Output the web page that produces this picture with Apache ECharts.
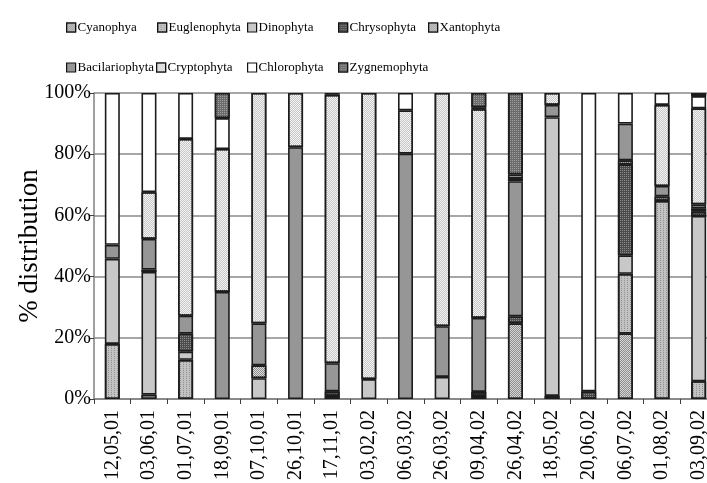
<!DOCTYPE html>
<html>
<head>
<meta charset="utf-8">
<script src="https://cdn.jsdelivr.net/npm/echarts@6/dist/echarts.min.js"></script>
<style>
  html, body { margin: 0; padding: 0; background: #fff; overflow: hidden; }
  #chart { width: 722px; height: 483px; }
</style>
</head>
<body>
<div id="chart"></div>
<script>
// Sampling dates (day,month,year)
const dates = ['12,05,01','03,06,01','01,07,01','18,09,01','07,10,01','26,10,01','17,11,01',
  '03,02,02','06,03,02','26,03,02','09,04,02','26,04,02','18,05,02','20,06,02','06,07,02','01,08,02','03,09,02'];

// Percentage share of each algal group per sampling date
const cyanophya      = [0, 0, 0, 0, 0, 0, 0, 0, 0, 0, 0, 24.7, 1, 0, 21.4, 0, 0];
const euglenophyta   = [18, 1.4, 12.8, 0, 0, 0, 1, 0, 0, 0, 1, 0, 0, 0, 19.5, 64.7, 5.8];
const dinophyta      = [27.8, 40.1, 2.7, 0, 6.8, 0, 0, 6.5, 0, 7.2, 0, 0, 91.1, 0, 6, 0, 54];
const chrysophyta    = [0, 0.8, 5.9, 0, 0, 0, 1.5, 0, 0, 0, 1.3, 2.3, 0, 2.5, 29.8, 1.5, 1.5];
const xantophyta     = [0, 0, 0, 0, 4.2, 0, 0, 0, 0, 0, 0, 0, 0, 0, 1.3, 0, 1];
const bacilariophyta = [4.6, 10, 5.8, 35, 13.7, 82.3, 9.2, 0, 80.2, 16.6, 24.2, 44.2, 4, 0, 12, 3.4, 1.3];
const cryptophyta    = [0, 15.3, 57.8, 46.7, 75.3, 17.7, 87.7, 93.5, 14.1, 76.2, 68.2, 1, 3.9, 0, 0, 26.5, 31.4];
const chlorophyta    = [49.6, 32.4, 15, 10.1, 0, 0, 0.6, 0, 5.7, 0, 0.6, 1.2, 0, 97.5, 10, 3.9, 4];
const zygnemophyta   = [0, 0, 0, 8.2, 0, 0, 0, 0, 0, 0, 4.7, 26.6, 0, 0, 0, 0, 1];

const yTicks = [0, 20, 40, 60, 80, 100];

const FONT = '"Liberation Serif", "Times New Roman", serif';

// Fill styles: base colour plus an optional decal texture
const groups = [
  { name: 'Cyanophya', data: cyanophya, color: '#d6d6d6',
    decal: { symbol: 'rect', symbolSize: 1, color: '#8e8e8e', dashArrayX: [[1, 1], [0, 1, 1, 0]], dashArrayY: [1, 0] } },
  { name: 'Euglenophyta', data: euglenophyta, color: '#c2c2c2',
    decal: { symbol: 'rect', symbolSize: 1, color: '#8f8f8f', dashArrayX: [1, 2], dashArrayY: [1, 1] } },
  { name: 'Dinophyta', data: dinophyta, color: '#c8c8c8' },
  { name: 'Chrysophyta', data: chrysophyta, color: '#4c4c4c',
    decal: { symbol: 'rect', symbolSize: 1, color: '#8a8a8a', dashArrayX: [1, 1], dashArrayY: [1, 1] } },
  { name: 'Xantophyta', data: xantophyta, color: '#8c8c8c',
    decal: { symbol: 'rect', symbolSize: 1, color: '#dedede', dashArrayX: [[1, 1], [0, 1, 1, 0]], dashArrayY: [1, 0] } },
  { name: 'Bacilariophyta', data: bacilariophyta, color: '#969696' },
  { name: 'Cryptophyta', data: cryptophyta, color: '#f4f4f4',
    decal: { symbol: 'rect', symbolSize: 1, color: '#c6c6c6', dashArrayX: [[1, 1], [0, 1, 1, 0]], dashArrayY: [1, 0] } },
  { name: 'Chlorophyta', data: chlorophyta, color: '#ffffff' },
  { name: 'Zygnemophyta', data: zygnemophyta, color: '#6c6c6c',
    decal: { symbol: 'rect', symbolSize: 1, color: '#9e9e9e', dashArrayX: [1, 1], dashArrayY: [1, 1] } }
];

// Legend laid out in two rows of fixed-width columns
const legendSpots = [
  [66, 21], [157, 21], [247, 21], [338, 21], [428, 21],
  [66, 61], [156, 61], [247, 61], [338, 61]
];

const legends = groups.map((g, i) => ({
  data: [g.name],
  left: legendSpots[i][0],
  top: legendSpots[i][1],
  itemWidth: 9,
  itemHeight: 9,
  itemGap: 0,
  padding: 0,
  icon: 'rect',
  itemStyle: { borderColor: '#111', borderWidth: 1.2 },
  textStyle: { fontFamily: FONT, fontSize: 13, color: '#000', padding: [0, 0, 0, -3] },
  selectedMode: false
}));

const series = groups.map(g => ({
  name: g.name,
  type: 'bar',
  stack: 'share',
  barWidth: 15,
  data: g.data.map(v => (v === 0 ? '-' : v)),
  itemStyle: Object.assign(
    { color: g.color, borderColor: '#1c1c1c', borderWidth: 1.6 },
    g.decal ? { decal: g.decal } : {}
  ),
  emphasis: { disabled: true }
}));

const chart = echarts.init(document.getElementById('chart'), null, { renderer: 'canvas' });
chart.setOption({
  animation: false,
  backgroundColor: '#ffffff',
  legend: legends,
  grid: { left: 94, top: 93, width: 623, height: 308, containLabel: false },
  xAxis: {
    type: 'category',
    data: dates,
    axisLine: { lineStyle: { color: '#808080', width: 1.5 } },
    axisTick: { show: true, length: 5, lineStyle: { color: '#404040', width: 1 } },
    axisLabel: { rotate: 90, margin: 11, fontFamily: FONT, fontSize: 20, color: '#000' }
  },
  yAxis: {
    type: 'value',
    min: yTicks[0],
    max: yTicks[yTicks.length - 1],
    interval: 20,
    name: '% distribution',
    nameLocation: 'middle',
    nameGap: 51,
    nameMoveOverlap: false,
    nameTextStyle: { fontFamily: FONT, fontSize: 27, color: '#000' },
    axisLine: { show: true, lineStyle: { color: '#808080', width: 1.5 } },
    axisTick: { show: true, length: 4, lineStyle: { color: '#404040' } },
    axisLabel: { margin: 3, fontFamily: FONT, fontSize: 20, color: '#000', formatter: v => v + '%' },
    splitLine: { show: true, lineStyle: { color: '#8a8a8a', width: 1.5 } }
  },
  series: series
});
</script>
</body>
</html>
